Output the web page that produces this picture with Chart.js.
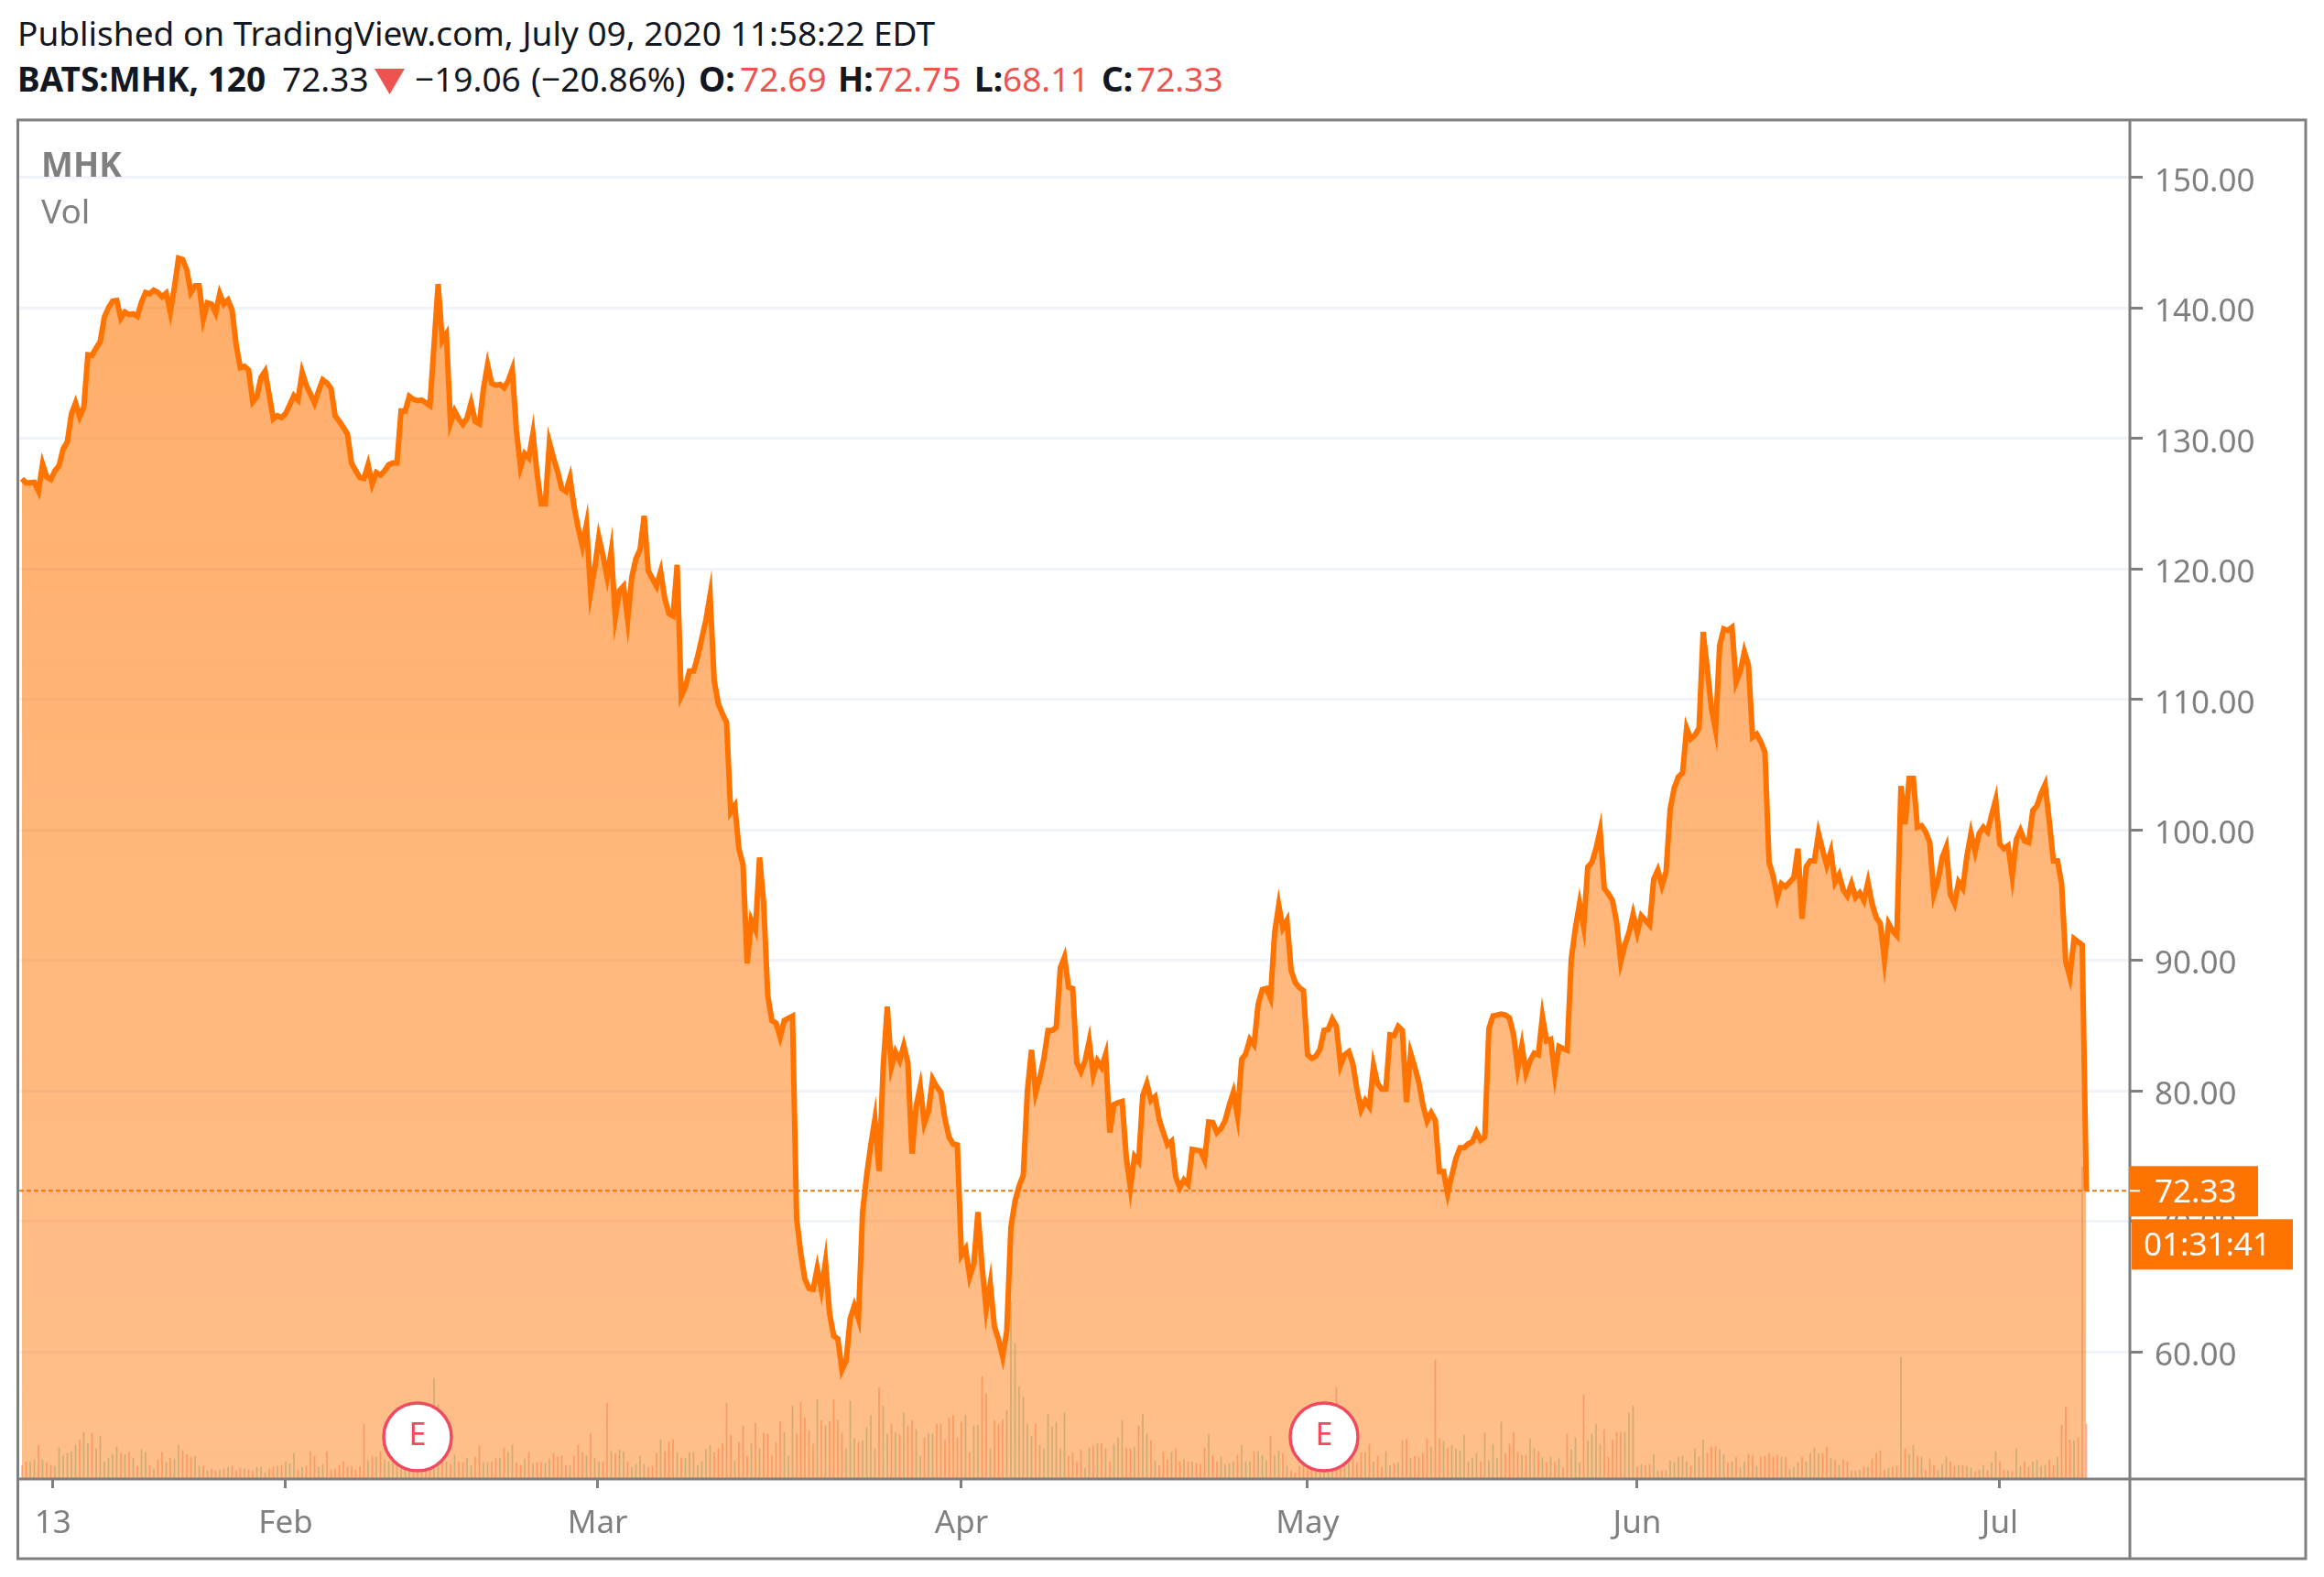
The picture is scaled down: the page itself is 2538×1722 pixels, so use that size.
<!DOCTYPE html>
<html>
<head>
<meta charset="utf-8">
<script src="https://cdn.jsdelivr.net/npm/chart.js@4"></script>
<style>
html,body{margin:0;padding:0;background:#fff;width:2538px;height:1722px;overflow:hidden}
canvas{position:absolute;left:0;top:0}
.h{position:absolute;font-family:"Noto Sans",sans-serif;font-size:37px;line-height:40px;color:#131722;white-space:nowrap}
.b{font-weight:700}.r{color:#ef5350}
#tri{position:absolute;left:409px;top:75px;width:33px;height:28px;background:#ef5350;clip-path:polygon(0 0,100% 0,50% 100%)}
</style>
</head>
<body>
<div class="h" style="left:19px;top:16px">Published on TradingView.com, July 09, 2020 11:58:22 EDT</div>
<div class="h b" style="left:19px;top:66px">BATS:MHK, 120</div>
<div class="h" style="left:308px;top:66px">72.33</div>
<div id="tri"></div>
<div class="h" style="left:453px;top:66px">−19.06</div>
<div class="h" style="left:580px;top:66px">(−20.86%)</div>
<div class="h b" style="left:763px;top:66px">O:</div>
<div class="h r" style="left:808px;top:66px">72.69</div>
<div class="h b" style="left:915px;top:66px">H:</div>
<div class="h r" style="left:955px;top:66px">72.75</div>
<div class="h b" style="left:1064px;top:66px">L:</div>
<div class="h r" style="left:1095px;top:66px">68.11</div>
<div class="h b" style="left:1203px;top:66px">C:</div>
<div class="h r" style="left:1241px;top:66px">72.33</div>
<canvas id="c" width="2538" height="1722" style="top:0"></canvas>
<script>
// ---------- data ----------
const closes = [
126.90,126.57,126.60,126.62,125.96,128.02,127.04,126.85,127.51,127.90,
129.19,129.71,131.86,132.70,131.65,132.35,136.40,136.35,136.91,137.42,
139.30,140.00,140.51,140.56,139.20,139.67,139.48,139.53,139.34,140.42,
141.17,141.07,141.35,141.17,140.84,141.12,139.67,141.59,143.79,143.69,
142.90,141.17,141.68,141.68,139.13,140.37,140.28,139.62,141.07,140.28,
140.60,139.81,137.10,135.41,135.51,135.23,132.79,133.17,134.66,135.13,
133.31,131.48,131.72,131.58,131.90,132.56,133.26,132.93,135.04,134.06,
133.40,132.70,133.63,134.48,134.24,133.82,131.72,131.30,130.83,130.31,
128.07,127.51,126.99,126.92,127.97,126.50,127.37,127.18,127.51,127.97,
128.11,128.11,132.09,132.09,133.21,132.98,132.89,132.93,132.72,132.51,
137.14,141.82,137.47,137.99,131.16,132.09,131.48,131.06,131.53,132.70,
131.30,131.11,133.82,135.63,134.20,134.06,134.13,133.87,134.39,135.27,
130.60,127.79,128.82,128.49,130.36,127.32,124.98,124.98,129.66,128.49,
127.44,126.15,125.92,126.97,124.75,123.11,121.75,123.39,118.20,120.07,
122.41,121.01,119.37,121.36,116.33,118.32,118.67,116.10,119.37,120.77,
121.47,124.05,119.84,119.25,118.67,119.79,117.73,116.56,116.38,120.30,
110.25,110.95,112.16,112.16,113.29,114.69,116.10,117.97,111.42,109.66,
108.87,108.23,101.35,101.84,98.53,97.30,89.75,93.07,92.34,97.87,
94.40,87.27,85.38,85.18,84.12,85.38,85.55,85.71,70.21,67.56,
65.58,64.85,64.78,66.40,64.75,66.90,62.93,61.20,61.00,58.60,
59.30,62.53,63.52,62.53,70.71,73.53,75.84,77.83,73.86,81.80,
86.44,81.80,82.96,82.30,83.46,82.14,75.18,78.82,80.31,77.50,
78.43,80.88,80.31,79.88,77.83,76.44,75.91,75.84,67.40,67.89,
65.74,66.74,70.71,66.57,63.26,65.24,61.93,60.94,59.62,61.60,
69.55,71.54,72.70,73.52,79.98,83.13,79.82,80.98,82.47,84.62,
84.62,84.85,89.42,90.25,87.93,87.83,82.14,81.47,82.30,83.79,
81.21,82.30,81.80,82.80,76.80,78.95,79.09,79.18,74.92,72.58,
74.97,74.57,79.65,80.54,79.25,79.55,77.78,76.80,75.86,76.14,
73.40,72.58,73.17,72.82,75.51,75.45,75.39,74.69,77.61,77.57,
76.80,77.12,77.73,78.90,79.88,78.08,82.41,82.83,83.93,83.53,
86.62,87.74,87.83,87.09,92.11,94.22,92.47,93.05,89.24,88.30,
87.91,87.67,82.76,82.48,82.64,83.16,84.63,84.70,85.50,84.93,
81.94,82.76,82.99,82.06,80.07,78.55,79.25,78.78,81.94,80.54,
80.12,80.12,84.28,84.23,84.93,84.63,79.13,82.88,81.82,80.65,
78.90,77.68,78.31,77.73,73.80,73.80,72.12,73.52,74.81,75.63,
75.63,75.93,76.09,76.84,76.21,76.44,84.75,85.73,85.80,85.87,
85.80,85.57,84.28,81.71,83.46,81.35,82.29,82.88,82.76,85.68,
83.81,83.93,81.24,83.39,83.23,83.11,90.13,92.47,94.34,92.59,
97.15,97.50,98.55,99.95,95.51,95.09,94.58,92.94,89.90,91.18,
92.12,93.52,92.12,93.41,93.05,92.70,96.21,96.91,95.74,96.80,
101.59,103.23,104.05,104.35,107.79,106.97,107.25,107.79,115.16,112.35,
109.31,107.67,114.11,115.39,115.27,115.51,111.30,112.12,113.64,112.59,
107.09,107.32,106.74,105.92,97.50,96.45,94.81,95.86,95.63,95.98,
96.33,98.55,93.17,97.15,97.62,97.62,99.72,98.43,97.27,98.32,
95.98,96.56,95.39,94.93,95.86,94.81,95.16,94.58,95.98,94.34,
93.29,92.82,90.01,92.82,92.24,91.89,103.35,100.42,103.93,103.93,
100.19,100.31,99.84,99.02,95.04,96.10,97.85,98.67,95.04,94.34,
95.98,95.51,97.97,99.72,98.32,99.72,100.19,99.84,101.12,102.29,
98.90,98.55,98.78,96.45,99.25,99.95,99.13,99.02,101.47,101.83,
102.76,103.46,100.66,97.62,97.62,95.86,89.90,88.73,91.65,91.40,
91.18,72.33];

const volumes = [
14,18,18,20,36,20,17,14,13,33,25,27,29,36,42,50,38,49,32,46,18,22,26,34,27,26,28,22,13,31,
28,14,10,20,28,17,22,21,36,30,26,23,24,13,13,8,10,8,9,10,12,13,8,11,10,9,8,12,12,6,
10,12,13,14,18,16,27,9,12,13,29,24,12,15,29,9,10,14,18,12,13,9,13,59,19,24,23,29,20,18,
16,22,15,18,14,20,17,24,21,22,109,80,20,18,15,25,18,17,22,14,23,35,17,17,18,22,22,33,28,36,17,
14,21,28,16,17,17,16,21,27,23,24,14,14,24,36,28,24,49,22,18,18,82,29,27,31,29,18,12,15,24,
15,12,13,27,42,29,39,42,28,22,22,28,28,14,18,31,36,28,32,38,82,
47,19,39,57,24,38,60,32,49,48,25,39,62,50,24,79,49,83,66,52,37,86,63,57,62,86,63,49,32,84,
43,39,41,55,69,32,99,79,48,59,50,47,71,57,63,53,24,44,49,48,59,59,41,66,69,44,61,69,28,57,
58,111,92,32,63,59,64,74,193,147,100,88,59,46,59,36,32,70,56,61,32,71,24,28,18,31,11,33,35,38,
38,32,18,37,44,63,33,32,34,57,70,48,41,19,14,28,20,28,32,18,21,18,18,16,15,33,48,25,18,23,
15,16,18,25,36,18,18,29,29,25,19,46,25,30,27,13,8,6,13,17,15,18,17,16,17,17,16,99,17,20,
17,22,17,28,28,37,18,24,12,29,14,16,17,41,42,22,24,23,27,43,34,129,43,40,33,36,32,30,
47,18,22,27,18,49,19,37,22,61,27,37,50,28,25,25,43,32,29,22,17,23,18,21,11,48,31,44,17,91,41,
48,59,37,53,23,42,50,50,50,71,79,12,15,14,15,26,8,8,8,19,17,23,24,18,13,32,23,42,27,34,
34,31,26,17,18,23,12,18,26,25,13,23,24,27,23,25,23,23,10,12,17,23,18,27,33,27,27,34,22,20,
14,20,18,8,8,9,12,12,21,27,30,9,11,12,13,132,32,26,36,24,23,9,21,14,8,15,23,18,13,14,
14,13,11,7,9,14,8,17,29,18,9,8,7,32,13,18,12,18,19,13,14,20,14,23,58,78,42,41,44,340,59];

const priceTicks = [150,140,130,120,110,100,90,80,70,60];
const timeTickBars = [7.5,64,139.7,228,312,392,480];
const timeTickLabels = ['13','Feb','Mar','Apr','May','Jun','Jul'];
const earningsBars = [96,316];
const lastPrice = 72.33;
const countdown = '01:31:41';
const paneTitles = ['MHK','Vol'];
// ---------- styling ----------
const ORANGE = '#ff7300', GRAY = '#7f7f7f', GRID = '#f0f3fa', EC = '#ef4a60';
const FONT = '"Noto Sans", sans-serif';
const canvas = document.getElementById('c');
const ctx = canvas.getContext('2d');
const grad = ctx.createLinearGradient(0,133,0,1614);
grad.addColorStop(0,'rgba(255,116,0,0.60)');
grad.addColorStop(1,'rgba(255,116,0,0.46)');
const X_MIN = -0.667, X_MAX = 511.56;
let nudged = false;

const overlay = {
  id:'overlay',
  beforeDraw(chart){
    if(nudged) return; nudged = true;
    chart.scales.y.getLabelItems().forEach(it=>{ it.options.translation[1] += 5; });
  },
  afterDraw(chart){
    const c = chart.ctx, ys = chart.scales.y, xs = chart.scales.x;
    c.save();
    c.strokeStyle = GRAY; c.lineWidth = 3;
    c.strokeRect(19.5,131,2498.5,1571);
    c.beginPath(); c.moveTo(2326,131); c.lineTo(2326,1702); c.moveTo(19.5,1615); c.lineTo(2518,1615); c.stroke();
    c.textBaseline='alphabetic'; c.textAlign='left'; c.fillStyle='#808080';
    c.font='700 37px '+FONT; c.fillText(paneTitles[0],45,193);
    c.font='400 37px '+FONT; c.fillText(paneTitles[1],45,244);
    c.fillStyle=EC; c.font='400 34px '+FONT; c.textAlign='center'; c.textBaseline='middle';
    earningsBars.forEach(b=>c.fillText('E',xs.getPixelForValue(b),1568));
    const py = ys.getPixelForValue(lastPrice);
    c.fillStyle=ORANGE;
    c.fillRect(2325,py-27,141,55);
    c.fillRect(2328,py+31,176,55);
    c.strokeStyle='#fff'; c.lineWidth=2;
    c.beginPath(); c.moveTo(2326,py); c.lineTo(2337,py); c.stroke();
    c.fillStyle='#fff'; c.textAlign='left'; c.textBaseline='middle'; c.font='400 35px '+FONT;
    c.fillText(lastPrice.toFixed(2),2353,py+3);
    c.fillText(countdown,2341,py+61);
    c.restore();
  }
};

new Chart(ctx,{
  type:'line',
  data:{datasets:[
    {type:'scatter',label:'Earnings',order:1,xAxisID:'x',yAxisID:'yVol',
     data:earningsBars.map(b=>({x:b,y:45})),pointRadius:37,pointHoverRadius:37,
     pointBackgroundColor:'#fff',pointBorderColor:EC,pointBorderWidth:3.5,showLine:false,clip:false},
    {type:'line',label:'Last',order:2,xAxisID:'x',yAxisID:'y',
     data:[{x:X_MIN,y:lastPrice},{x:X_MAX,y:lastPrice}],borderColor:ORANGE,borderWidth:2,borderDash:[5,3],pointRadius:0,fill:false},
    {type:'line',label:'MHK',order:3,xAxisID:'x',yAxisID:'y',
     data:closes.map((v,i)=>({x:i,y:v})),borderColor:ORANGE,borderWidth:6,borderJoinStyle:'miter',
     tension:0,pointRadius:0,fill:'start',backgroundColor:grad},
    {type:'bar',label:'Vol',order:4,xAxisID:'x',yAxisID:'yVol',
     data:volumes.map((v,i)=>({x:i,y:v})),barThickness:1,
     backgroundColor:volumes.map((v,i)=> (i>0 && closes[i]>=closes[i-1]) ? 'rgba(38,166,154,0.42)' : 'rgba(239,83,80,0.42)')}
  ]},
  options:{
    responsive:false,animation:false,devicePixelRatio:1,
    layout:{autoPadding:false,padding:{left:21,top:133,right:0,bottom:0}},
    plugins:{legend:{display:false},tooltip:{enabled:false},title:{display:false}},
    events:[],
    scales:{
      x:{type:'linear',position:'bottom',min:X_MIN,max:X_MAX,offset:false,
        afterFit(s){s.height=108;s.paddingLeft=0;s.paddingRight=0;},
        afterBuildTicks(s){s.ticks=timeTickBars.map(v=>({value:v}));},
        grid:{offset:false,drawOnChartArea:false,drawTicks:true,tickLength:11,tickColor:GRAY,tickWidth:3},
        border:{display:false},
        ticks:{autoSkip:false,maxRotation:0,color:GRAY,padding:18,font:{family:FONT,size:35,weight:'400'},
          callback(v){const k=timeTickBars.indexOf(v);return k>=0?timeTickLabels[k]:'';}}},
      y:{type:'linear',position:'right',min:50.316,max:154.25,
        afterFit(s){s.width=212;},
        afterBuildTicks(s){s.ticks=priceTicks.map(v=>({value:v}));},
        grid:{color:GRID,lineWidth:3,tickColor:GRAY,tickWidth:3,tickLength:14},
        border:{display:false},
        ticks:{autoSkip:false,color:GRAY,padding:13,font:{family:FONT,size:35,weight:'400'},
          callback(v){return v.toFixed(2);}}},
      yVol:{type:'linear',position:'right',display:false,min:0,max:1481}
    }
  },
  plugins:[overlay]
});
</script>
</body>
</html>
